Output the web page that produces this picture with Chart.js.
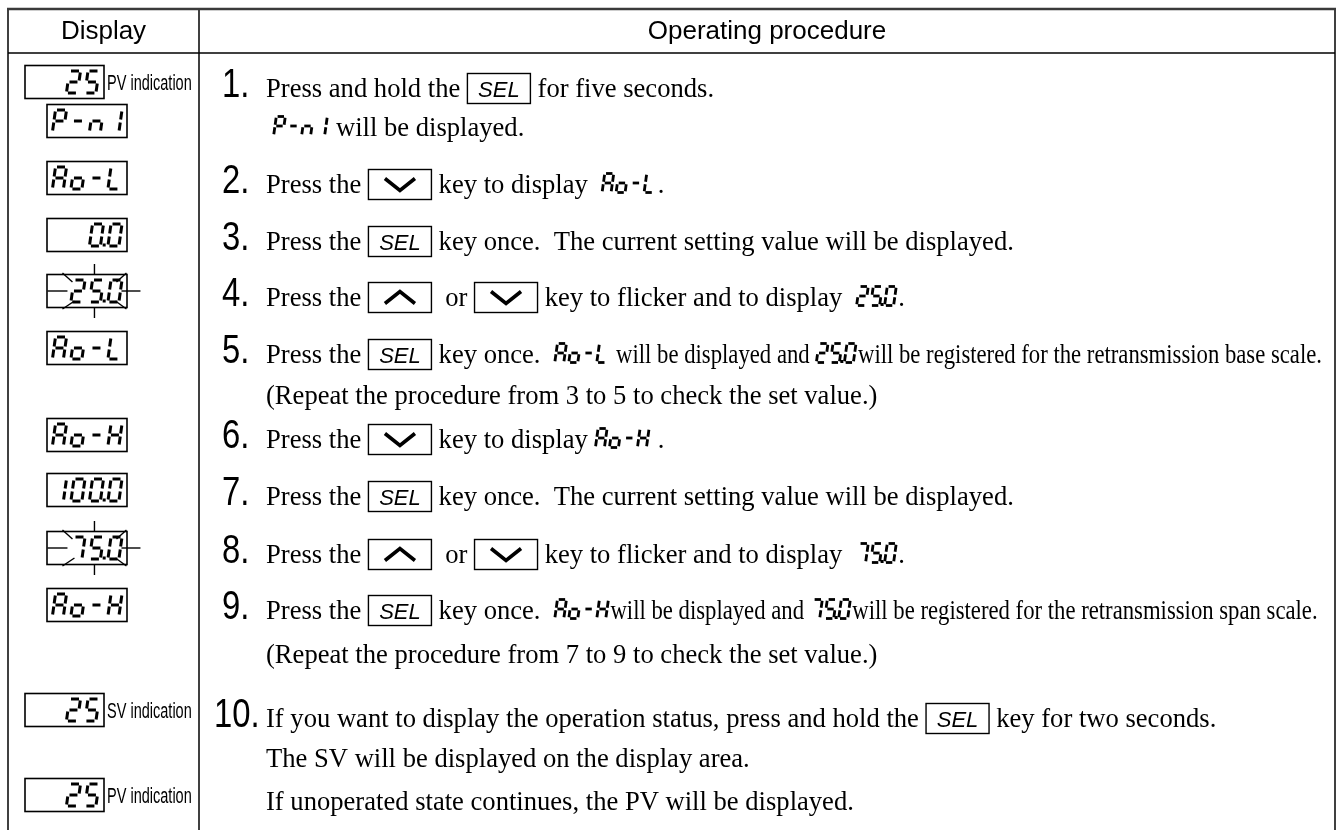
<!DOCTYPE html>
<html lang="en">
<head>
    <meta charset="UTF-8">
    <title>Operating procedure</title>
    <script src="https://cdn.jsdelivr.net/npm/chart.js"></script>
    <style>
        html, body { margin: 0; padding: 0; background: #fff; }
        .wrap { width: 1343px; height: 830px; }
    </style>
</head>
<body>
    <div class="wrap"><canvas id="procChart"></canvas></div>

    <script>
        // column titles
        const headerLabels = ['Display', 'Operating procedure'];

        // display column: code shown on the LED, side note, flicker flag
        const displayCodes = ['25', 'P-n1', 'Ao-L', '0.0', '25.0', 'Ao-L', 'Ao-H', '100.0', '75.0', 'Ao-H', '25', '25'];
        const displayNotes = ['PV indication', '', '', '', '', '', '', '', '', '', 'SV indication', 'PV indication'];
        const displayFlicker = [false, false, false, false, true, false, false, false, true, false, false, false];

        // procedure lines: [SEL]/[UP]/[DOWN] = key, {..} = LED text, <..> = narrow text
        const stepLabels = ['1', '', '2', '3', '4', '5', '', '6', '7', '8', '9', '', '10', '', ''];
        const lineText = [
            'Press and hold the [SEL] for five seconds.',
            ' {P-n1} will be displayed.',
            'Press the [DOWN] key to display  {Ao-L}.',
            'Press the [SEL] key once.  The current setting value will be displayed.',
            'Press the [UP]  or [DOWN] key to flicker and to display  {25.0}.',
            'Press the [SEL] key once.  {Ao-L}< will be displayed and >{25.0}<will be registered for the retransmission base scale.>',
            '(Repeat the procedure from 3 to 5 to check the set value.)',
            'Press the [DOWN] key to display {Ao-H} .',
            'Press the [SEL] key once.  The current setting value will be displayed.',
            'Press the [UP]  or [DOWN] key to flicker and to display  {75.0}.',
            'Press the [SEL] key once.  {Ao-H}<will be displayed and >{75.0}<will be registered for the retransmission span scale.>',
            '(Repeat the procedure from 7 to 9 to check the set value.)',
            'If you want to display the operation status, press and hold the [SEL] key for two seconds.',
            'The SV will be displayed on the display area.',
            'If unoperated state continues, the PV will be displayed.'
        ];

        // layout (chart units == page pixels)
        const W = 1343, H = 830;
        const lineY = [82, 121, 178, 235, 291, 348, 389, 433, 490, 548, 604, 648, 712, 752, 795];
        const displayY = [82, 121, 178, 235, 291, 348, 435, 490, 548, 605, 710, 795];
        const gridX = [8, 199, 1335];
        const topY = 9, headY = 53, textX = 266, numX = 222, narrowEnd = 1322;

        const SERIF = '26.6px "Liberation Serif", "Times New Roman", serif';
        const SANS = '"Liberation Sans", Arial, sans-serif';

        // 7-segment LED text
        const SEG = { '0': 'abcdef', '1': 'bc', '2': 'abdeg', '5': 'acdfg', '7': 'abc', 'P': 'abefg', 'n': 'ceg',
                      'A': 'abcefg', 'o': 'cdeg', 'L': 'def', 'H': 'bcefg', '-': 'g', ' ': '' };
        const boxLed = { w: 11, h: 22, pitch: 18.5, k: 0.14, g: 1.5, lw: 3 };
        const inlineLed = { w: 9, h: 19, pitch: 14, k: 0.14, g: 1.3, lw: 2.8 };

        function ledWidth(str, o) {
            let n = 0;
            for (const ch of str) if (ch !== '.') n++;
            return n * o.pitch - (o.pitch - o.w) + o.k * o.h;
        }

        function drawLed(ctx, str, x0, base, o) {
            const { w, h, k, g } = o;
            const segs = {
                a: [[g, h], [w - g, h]], b: [[w, h - g], [w, h / 2 + g]], c: [[w, h / 2 - g], [w, g]],
                d: [[g, 0], [w - g, 0]], e: [[0, h / 2 - g], [0, g]], f: [[0, h - g], [0, h / 2 + g]],
                g: [[g, h / 2], [w - g, h / 2]]
            };
            ctx.save();
            ctx.strokeStyle = '#000';
            ctx.fillStyle = '#000';
            ctx.lineWidth = o.lw;
            ctx.lineCap = 'butt';
            let cx = x0;
            for (const ch of str) {
                if (ch === '.') {
                    const dx = cx - o.pitch + w + (o.pitch - w) / 2 - 1.5;
                    ctx.fillRect(dx, base - 2.5, 3, 3);
                    continue;
                }
                const P = (u, v) => [cx + u + k * v, base - v];
                for (const s of SEG[ch] || '') {
                    const [p1, p2] = segs[s];
                    ctx.beginPath();
                    ctx.moveTo(...P(p1[0], p1[1]));
                    ctx.lineTo(...P(p2[0], p2[1]));
                    ctx.stroke();
                }
                cx += o.pitch;
            }
            ctx.restore();
        }

        const KEY_W = 64;

        function drawKey(ctx, kind, x, base) {
            ctx.save();
            ctx.strokeStyle = '#000';
            ctx.lineWidth = 1.4;
            ctx.strokeRect(x + 0.5, base - 23, KEY_W - 1, 30);
            const cx = x + KEY_W / 2, cy = base - 8;
            if (kind === 'SEL') {
                ctx.fillStyle = '#000';
                ctx.font = 'italic 22px ' + SANS;
                ctx.textAlign = 'center';
                ctx.textBaseline = 'alphabetic';
                ctx.fillText('SEL', cx, cy + 8);
            } else {
                const d = kind === 'UP' ? -1 : 1;
                ctx.lineWidth = 3.6;
                ctx.lineJoin = 'miter';
                ctx.beginPath();
                ctx.moveTo(cx - 15, cy - 6 * d);
                ctx.lineTo(cx, cy + 6 * d);
                ctx.lineTo(cx + 15, cy - 6 * d);
                ctx.stroke();
            }
            ctx.restore();
        }

        function tokens(str) {
            return str.split(/(\[[^\]]+\]|\{[^}]+\}|<[^>]+>)/).filter(t => t.length).map(t => {
                if (t[0] === '[') return { type: 'key', v: t.slice(1, -1) };
                if (t[0] === '{') return { type: 'led', v: t.slice(1, -1) };
                if (t[0] === '<') return { type: 'narrow', v: t.slice(1, -1) };
                return { type: 'text', v: t };
            });
        }

        function tokenWidth(ctx, t, narrow) {
            if (t.type === 'key') return KEY_W;
            if (t.type === 'led') return ledWidth(t.v, inlineLed) + 3;
            ctx.font = SERIF;
            return ctx.measureText(t.v).width * (t.type === 'narrow' ? narrow : 1);
        }

        const tablePlugin = {
            id: 'procTable',
            afterDraw(chart) {
                const { ctx, scales: { x, y } } = chart;
                const px = v => x.getPixelForValue(v);
                const py = v => y.getPixelForValue(v);

                ctx.save();
                // grid
                ctx.strokeStyle = '#000';
                ctx.lineWidth = 1.5;
                gridX.forEach(gx => {
                    ctx.beginPath();
                    ctx.moveTo(px(gx), py(topY));
                    ctx.lineTo(px(gx), py(H));
                    ctx.stroke();
                });
                ctx.beginPath();
                ctx.moveTo(px(gridX[0]), py(headY));
                ctx.lineTo(px(gridX[2]), py(headY));
                ctx.stroke();
                ctx.strokeStyle = '#3a3a3a';
                ctx.lineWidth = 2.5;
                ctx.beginPath();
                ctx.moveTo(px(gridX[0] - 1), py(topY));
                ctx.lineTo(px(gridX[2] + 1), py(topY));
                ctx.stroke();

                // headers
                ctx.fillStyle = '#000';
                ctx.font = '26px ' + SANS;
                ctx.textAlign = 'center';
                ctx.textBaseline = 'middle';
                ctx.fillText(headerLabels[0], px((gridX[0] + gridX[1]) / 2), py((topY + headY) / 2 + 1));
                ctx.fillText(headerLabels[1], px((gridX[1] + gridX[2]) / 2), py((topY + headY) / 2 + 1));

                // display column
                displayCodes.forEach((code, i) => {
                    const cy = py(displayY[i]);
                    const noted = displayNotes[i] !== '';
                    const bx = noted ? px(25) : px(47);
                    const bw = noted ? 79 : 80;
                    ctx.strokeStyle = '#000';
                    ctx.lineWidth = 1.6;
                    ctx.strokeRect(bx, cy - 16.5, bw, 33);
                    const base = cy + 11;
                    const lw = ledWidth(code, boxLed);
                    drawLed(ctx, code, bx + bw - 5 - lw, base, boxLed);
                    if (noted) {
                        ctx.save();
                        ctx.font = '22px ' + SANS;
                        ctx.textAlign = 'left';
                        ctx.textBaseline = 'alphabetic';
                        ctx.translate(bx + bw + 3, cy + 8);
                        ctx.scale(0.66, 1);
                        ctx.fillText(displayNotes[i], 0, 0);
                        ctx.restore();
                    }
                    if (displayFlicker[i]) {
                        const fx = bx + bw - 5 - lw / 2 - 2, fy = cy;
                        ctx.lineWidth = 1.4;
                        const rays = [
                            [-47, 0, -27, 0], [27, 0, 46, 0], [0, -27, 0, -17], [0, 17, 0, 27],
                            [-32, -18, -22, -9], [32, -18, 22, -9], [-32, 18, -20, 10], [32, 18, 21, 10]
                        ];
                        rays.forEach(r => {
                            ctx.beginPath();
                            ctx.moveTo(fx + r[0], fy + r[1]);
                            ctx.lineTo(fx + r[2], fy + r[3]);
                            ctx.stroke();
                        });
                    }
                });

                // narrow-text squeeze, fitted so the long step 5 line ends at the border
                ctx.font = SERIF;
                const longToks = tokens(lineText[5]);
                let fixedW = 0, narrowW = 0;
                longToks.forEach(t => {
                    if (t.type === 'narrow') narrowW += tokenWidth(ctx, t, 1);
                    else fixedW += tokenWidth(ctx, t, 1);
                });
                const squeeze = Math.min(1, (narrowEnd - textX - fixedW) / narrowW);

                // procedure column
                lineText.forEach((line, i) => {
                    const cy = py(lineY[i]);
                    const base = cy + 14.5;
                    if (stepLabels[i]) {
                        ctx.save();
                        ctx.fillStyle = '#000';
                        ctx.font = '40px ' + SANS;
                        ctx.textAlign = 'left';
                        ctx.textBaseline = 'alphabetic';
                        const nx = stepLabels[i].length > 1 ? numX - 8 : numX;
                        ctx.translate(px(nx), base);
                        ctx.scale(0.82, 1);
                        ctx.fillText(stepLabels[i] + '.', 0, 0);
                        ctx.restore();
                    }
                    let cx = px(textX);
                    tokens(line).forEach(t => {
                        const tw = tokenWidth(ctx, t, squeeze);
                        if (t.type === 'key') {
                            drawKey(ctx, t.v, cx, base);
                        } else if (t.type === 'led') {
                            drawLed(ctx, t.v, cx + 1, base, inlineLed);
                        } else {
                            ctx.save();
                            ctx.fillStyle = '#000';
                            ctx.font = SERIF;
                            ctx.textAlign = 'left';
                            ctx.textBaseline = 'alphabetic';
                            ctx.translate(cx, base);
                            if (t.type === 'narrow') ctx.scale(squeeze, 1);
                            ctx.fillText(t.v, 0, 0);
                            ctx.restore();
                        }
                        cx += tw;
                    });
                });
                ctx.restore();
            }
        };

        window.addEventListener('load', () => {
            const ctx = document.getElementById('procChart').getContext('2d');
            new Chart(ctx, {
                type: 'scatter',
                data: {
                    datasets: [{
                        label: 'display',
                        data: displayY.map(v => ({ x: 87, y: v })),
                        pointRadius: 0
                    }]
                },
                options: {
                    responsive: true,
                    maintainAspectRatio: false,
                    animation: false,
                    events: [],
                    layout: { padding: 0 },
                    plugins: { legend: { display: false }, tooltip: { enabled: false } },
                    scales: {
                        x: { type: 'linear', min: 0, max: W, display: false },
                        y: { type: 'linear', min: 0, max: H, reverse: true, display: false }
                    }
                },
                plugins: [tablePlugin]
            });
        });
    </script>
</body>
</html>
